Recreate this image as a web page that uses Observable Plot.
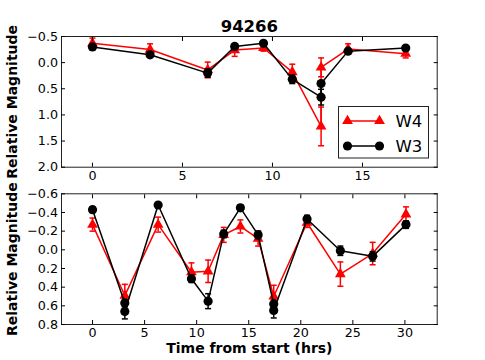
<!DOCTYPE html>
<html>
<head>
<meta charset="utf-8">
<script src="https://cdn.jsdelivr.net/npm/d3@7"></script>
<script src="https://cdn.jsdelivr.net/npm/@observablehq/plot@0.6"></script>
<style>
  html, body { margin: 0; padding: 0; background: white; }
  #wrap { position: relative; width: 485px; height: 360px; font-family: "DejaVu Sans", sans-serif; }
  #wrap > svg, #wrap > div { position: absolute; left: 0; }
</style>
</head>
<body>
<div id="wrap"></div>
<script>
// ---------- data ----------
const title = "94266";
const yLabel = "Relative Magnitude";
const xLabel = "Time from start (hrs)";
const seriesNames = ["W4", "W3"];

// top panel
const topTimeW4 = [0, 3.2, 6.4, 7.9, 9.5, 11.1, 12.7, 12.7, 14.2, 17.4];
const topW4     = [-0.37, -0.25, 0.14, -0.24, -0.28, 0.18, 1.22, 0.09, -0.26, -0.17];
const topW4Err  = [0.10, 0.11, 0.15, 0.12, 0.06, 0.15, 0.37, 0.18, 0.10, 0.08];
const topTimeW3 = [0, 3.2, 6.4, 7.9, 9.5, 11.1, 12.7, 12.7, 14.2, 17.4];
const topW3     = [-0.30, -0.15, 0.20, -0.31, -0.37, 0.32, 0.66, 0.40, -0.22, -0.28];
const topW3Err  = [0.05, 0.05, 0.08, 0.04, 0.04, 0.08, 0.15, 0.05, 0.04, 0.04];
const topXTicks = [0, 5, 10, 15];
const topYTicks = [-0.5, 0.0, 0.5, 1.0, 1.5, 2.0];

// bottom panel
const botTimeW4 = [0, 3.1, 6.3, 9.5, 11.1, 12.6, 14.2, 15.9, 17.4, 20.6, 23.8, 26.9, 30.1];
const botW4     = [-0.27, 0.49, -0.27, 0.24, 0.23, -0.16, -0.25, -0.12, 0.50, -0.29, 0.26, 0.04, -0.38];
const botW4Err  = [0.07, 0.12, 0.08, 0.10, 0.12, 0.08, 0.07, 0.08, 0.12, 0.05, 0.13, 0.12, 0.08];
const botTimeW3 = [0, 3.1, 3.1, 6.3, 9.5, 11.1, 12.6, 14.2, 15.9, 17.4, 17.4, 20.6, 23.8, 26.9, 30.1];
const botW3     = [-0.43, 0.57, 0.66, -0.48, 0.31, 0.55, -0.17, -0.45, -0.16, 0.58, 0.65, -0.33, 0.01, 0.07, -0.27];
const botW3Err  = [0.03, 0.04, 0.08, 0.02, 0.04, 0.08, 0.04, 0.03, 0.04, 0.04, 0.08, 0.04, 0.05, 0.05, 0.04];
const botXTicks = [0, 5, 10, 15, 20, 25, 30];
const botYTicks = [-0.6, -0.4, -0.2, 0.0, 0.2, 0.4, 0.6, 0.8];

// ---------- helpers ----------
const RED = "#ff0000", BLACK = "#000000";
const zip = (t, v, e) => t.map((x, i) => ({t: x, v: v[i], e: e[i]}));
const capSymbol = {
  draw(context, size) {
    const r = Math.sqrt(size / Math.PI);
    context.moveTo(-r, 0);
    context.lineTo(r, 0);
  }
};

function seriesMarks(data, color, symbol, r) {
  return [
    Plot.line(data, {x: "t", y: "v", stroke: color, strokeWidth: 1.5}),
    Plot.ruleX(data, {x: "t", y1: d => d.v - d.e, y2: d => d.v + d.e, stroke: color, strokeWidth: 1.5}),
    Plot.dot(data, {x: "t", y: d => d.v - d.e, symbol: capSymbol, r: 3, stroke: color, strokeWidth: 1.5}),
    Plot.dot(data, {x: "t", y: d => d.v + d.e, symbol: capSymbol, r: 3, stroke: color, strokeWidth: 1.5}),
    Plot.dot(data, {x: "t", y: "v", symbol, r, fill: color, stroke: "none"})
  ];
}

function panel({height, marginTop, marginBottom, xDomain, yDomain, xTicks, yTicks, w4, w3, extra}) {
  const fmt = d3.format(".1f");
  return Plot.plot({
    width: 485,
    height,
    marginTop,
    marginBottom,
    marginLeft: 61,
    marginRight: 48.3,
    style: {fontFamily: "DejaVu Sans, sans-serif", fontSize: "12.7px", color: "black", background: "white", overflow: "visible"},
    x: {domain: xDomain},
    y: {domain: yDomain, reverse: true},
    marks: [
      ...seriesMarks(w4, RED, "triangle", 4),
      ...seriesMarks(w3, BLACK, "circle", 4.6),
      Plot.frame({stroke: "#222", strokeWidth: 1}),
      Plot.axisX({anchor: "bottom", ticks: xTicks, tickSize: -4, tickPadding: 7.5, label: null, tickFormat: d3.format("d")}),
      Plot.axisX({anchor: "top", ticks: xTicks, tickSize: -4, label: null, tickFormat: () => ""}),
      Plot.axisY({anchor: "left", ticks: yTicks, tickSize: -4, tickPadding: 7.5, label: null, tickFormat: fmt}),
      Plot.axisY({anchor: "right", ticks: yTicks, tickSize: -4, label: null, tickFormat: () => ""}),
      Plot.text([yLabel], {text: d => d, frameAnchor: "left", rotate: -90, dx: -48.5, fontSize: 14, fontWeight: "bold", textAnchor: "middle", lineAnchor: "middle"}),
      ...(extra || [])
    ]
  });
}

const wrap = document.getElementById("wrap");

const topPlot = panel({
  height: 185, marginTop: 36, marginBottom: 18.3,
  xDomain: [-1.72, 19.15], yDomain: [-0.5, 2.0],
  xTicks: topXTicks, yTicks: topYTicks,
  w4: zip(topTimeW4, topW4, topW4Err),
  w3: zip(topTimeW3, topW3, topW3Err),
  extra: [Plot.text([title], {text: d => d, frameAnchor: "top", dy: -10, fontSize: 16.5, fontWeight: "bold", lineAnchor: "middle"})]
});
topPlot.style.top = "0px";
wrap.appendChild(topPlot);

const botPlot = panel({
  height: 175, marginTop: 8.3, marginBottom: 36,
  xDomain: [-2.98, 33.1], yDomain: [-0.6, 0.8],
  xTicks: botXTicks, yTicks: botYTicks,
  w4: zip(botTimeW4, botW4, botW4Err),
  w3: zip(botTimeW3, botW3, botW3Err),
  extra: [Plot.text([xLabel], {text: d => d, frameAnchor: "bottom", dy: 24, fontSize: 14, fontWeight: "bold", lineAnchor: "middle"})]
});
botPlot.style.top = "185px";
wrap.appendChild(botPlot);

// legend (top panel, lower right)
const ns = "http://www.w3.org/2000/svg";
const leg = document.createElementNS(ns, "svg");
leg.setAttribute("width", 92); leg.setAttribute("height", 53);
leg.style.position = "absolute"; leg.style.left = "337.5px"; leg.style.top = "106px";
const tri = (cx, cy) => {
  const s = 10.8, h = s * Math.sqrt(3) / 2;
  return `${cx - s/2},${cy + h/3} ${cx + s/2},${cy + h/3} ${cx},${cy - 2*h/3}`;
};
let inner = `<rect x="0.5" y="0.5" width="90" height="51.5" fill="white" stroke="#222" stroke-width="1"/>`;
const entries = [{name: seriesNames[0], color: RED, y: 15, shape: "tri"}, {name: seriesNames[1], color: BLACK, y: 40, shape: "circ"}];
for (const e of entries) {
  inner += `<line x1="9.5" x2="41.5" y1="${e.y}" y2="${e.y}" stroke="${e.color}" stroke-width="1.5"/>`;
  for (const cx of [9.5, 41.5]) {
    inner += e.shape === "tri"
      ? `<polygon points="${tri(cx, e.y)}" fill="${e.color}"/>`
      : `<circle cx="${cx}" cy="${e.y}" r="4.6" fill="${e.color}"/>`;
  }
  inner += `<text x="57.5" y="${e.y}" dy="0.36em" font-family="DejaVu Sans, sans-serif" font-size="16.5" fill="black">${e.name}</text>`;
}
leg.innerHTML = inner;
wrap.appendChild(leg);
</script>
</body>
</html>
